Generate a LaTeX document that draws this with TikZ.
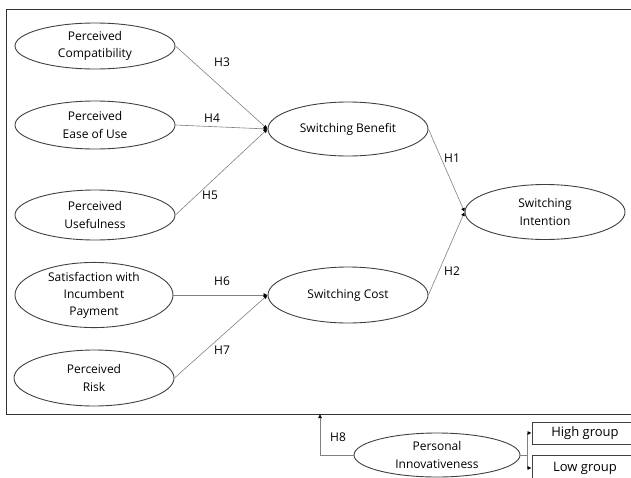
\documentclass[tikz,border=0pt]{standalone}
\usepackage{fontspec}
\setmainfont{Open Sans}
\usetikzlibrary{shapes.geometric,arrows.meta}

\begin{document}
\begin{tikzpicture}[x=1pt,y=-1pt,
        construct/.style={ellipse,draw=black!75,line width=0.9pt,align=center,inner sep=0pt,
                minimum width=160pt,minimum height=50pt,font=\fontsize{12}{17.5}\selectfont},
        groupbox/.style={rectangle,draw=black!75,line width=0.9pt,inner sep=0pt,
                minimum width=106pt,font=\fontsize{13}{15}\selectfont},
        path/.style={draw=black!50,line width=0.6pt,-{Latex[length=4pt,width=4pt,black]}},
        hlabel/.style={font=\fontsize{12}{14}\selectfont}]
                \useasboundingbox (0,0) rectangle (631,477);
                \clip (0,0) rectangle (631,477);
                \draw[black!80,line width=0.9pt] (6,9) rectangle (645,414);

                \node[construct,minimum height=46pt] (PC) at (95,46){Perceived\\Compatibility};
                \node[construct,minimum height=48pt] (PEU) at (95,125){Perceived\\Ease of Use};
                \node[construct] (PU) at (95,215){Perceived\\Usefulness};
                \node[construct,minimum width=158pt,minimum height=56pt,font=\fontsize{12}{17}\selectfont] (SIP) at (94,295){Satisfaction with\\Incumbent\\Payment};
                \node[construct,minimum height=56pt] (PR) at (94,378){Perceived\\Risk};
                \node[construct,minimum height=54pt] (SB) at (348,129){Switching Benefit};
                \node[construct,minimum height=56pt] (SC) at (348,295){Switching Cost};
                \node[construct,minimum height=55pt] (SI) at (545,212){Switching\\Intention};
                \node[construct,minimum width=166pt,minimum height=44pt] (PI) at (437,455){Personal\\Innovativeness};
                \node[groupbox,minimum height=22pt] (HG) at (585,433){High group};
                \node[groupbox,minimum height=26pt] (LG) at (585,468){Low group};

                \node[hlabel] (H3) at (222,62){H3};
                \node[hlabel] (H4) at (212,118){H4};
                \node[hlabel] (H5) at (210,195){H5};
                \node[hlabel] (H6) at (222,281){H6};
                \node[hlabel] (H7) at (222,350){H7};
                \node[hlabel] (H1) at (452,158){H1};
                \node[hlabel] (H2) at (452,271){H2};
                \node[hlabel] (H8) at (338,437){H8};

                \coordinate (top8) at (320,414);
                \coordinate (fork) at (527,455);

                \draw[path] (PC.east) -- (SB.west);
                \draw[path] (PEU.east) -- (SB.west);
                \draw[path] (PU.east) -- (SB.west);
                \draw[path] (SIP.east) -- (SC.west);
                \draw[path] (PR.east) -- (SC.west);
                \draw[path] (SB.east) -- (SI.west);
                \draw[path] (SC.east) -- (SI.west);
                \draw[path] (PI.west) -| (top8);
                \draw[draw=black!50,line width=0.6pt] (PI.east) -- (fork);
                \draw[path] (fork) |- (HG.west);
                \draw[path] (fork) |- (LG.west);
        \end{tikzpicture}
\end{document}
